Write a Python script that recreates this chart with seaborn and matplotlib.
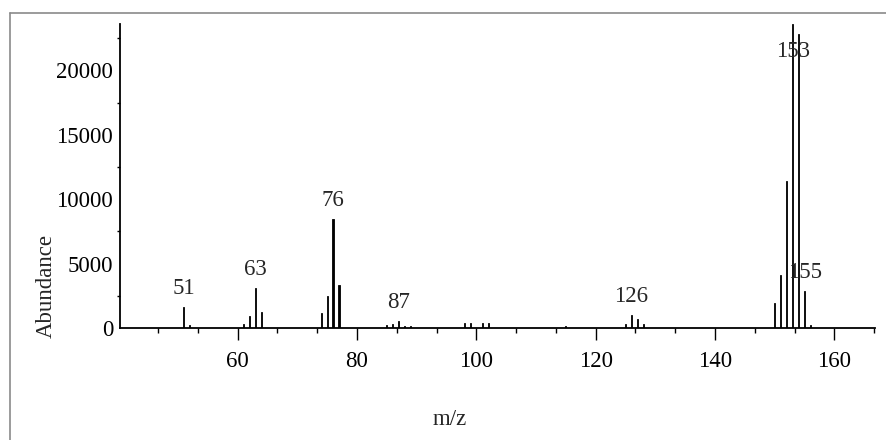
import matplotlib
matplotlib.use("Agg")
import matplotlib.pyplot as plt
from matplotlib.lines import Line2D
from matplotlib.ticker import MultipleLocator
import seaborn as sns
import pandas as pd

# ---- data ----
mz = [51, 52, 61, 62, 63, 64, 74, 75, 76, 77,
      85, 86, 87, 88, 89, 98, 99, 101, 102, 115,
      125, 126, 127, 128, 150, 151, 152, 153, 154, 155, 156]
abundance = [1650, 230, 290, 950, 3080, 1260, 1190, 2480, 8500, 3330,
             260, 310, 520, 180, 130, 390, 390, 390, 390, 150,
             340, 980, 720, 340, 1910, 4100, 11450, 23600, 22800, 2870, 200]
peak_labels = [51, 63, 76, 87, 126, 153, 155]
x_ticks = [60, 80, 100, 120, 140, 160]
y_ticks = [0, 5000, 10000, 15000, 20000]
x_label = "m/z"
y_label = "Abundance"

df = pd.DataFrame({"mz": mz, "abundance": abundance})

sns.set_style("white")
plt.rcParams["font.family"] = ["Liberation Serif", "DejaVu Serif"]
plt.rcParams["font.size"] = 16.5

fig = plt.figure(figsize=(8.86, 4.40), dpi=100)
ax = fig.add_axes([120 / 886, 1 - 328 / 440, (875 - 120) / 886, (328 - 24) / 440])

sns.barplot(data=df, x="mz", y="abundance", native_scale=True, orient="x",
            width=0.2, color="black", edgecolor="black", linewidth=0.6,
            errorbar=None, saturation=1, ax=ax)

ax.set_xlim(40.3, 166.8)
ax.set_ylim(0, 23600)

# peak labels
for m in peak_labels:
    v = abundance[mz.index(m)]
    ax.annotate(str(m), xy=(m, min(v, 20000)), xytext=(0, 13),
                textcoords="offset pixels", ha="center", va="baseline",
                fontsize=16.5)

# axes styling
for s in ("top", "right"):
    ax.spines[s].set_visible(False)
for s in ("left", "bottom"):
    ax.spines[s].set_color("black")
    ax.spines[s].set_linewidth(1.3)

ax.set_xticks(x_ticks)
ax.set_xticklabels([str(t) for t in x_ticks])
ax.xaxis.set_minor_locator(MultipleLocator(20 / 3))
ax.set_yticks(y_ticks)
ax.set_yticklabels([str(t) for t in y_ticks])
ax.yaxis.set_minor_locator(MultipleLocator(2500))

ax.tick_params(axis="x", which="major", direction="out", length=8.6, width=1.0,
               pad=8, colors="black", bottom=True)
ax.tick_params(axis="x", which="minor", direction="out", length=3.6, width=1.0,
               colors="black", bottom=True)
ax.tick_params(axis="y", which="major", direction="out", length=0, pad=5,
               colors="black", left=True)
ax.tick_params(axis="y", which="minor", direction="out", length=2.2, width=1.0,
               colors="black", left=True)

ax.set_xlabel(x_label, fontsize=16.5)
ax.set_ylabel(y_label, fontsize=16.5)
ax.xaxis.label.set_va("center")
ax.yaxis.label.set_va("center")
ax.xaxis.set_label_coords((450 - 120) / 755, -(419 - 328) / 304)
ax.yaxis.set_label_coords((46 - 120) / 755, (328 - 286) / 304)

# outer gray frame (top and left edges)
fig.add_artist(Line2D([10 / 886, 1.0], [1 - 13 / 440, 1 - 13 / 440],
                      transform=fig.transFigure, color="#8a8a8a", lw=1.2))
fig.add_artist(Line2D([10 / 886, 10 / 886], [0.0, 1 - 13 / 440],
                      transform=fig.transFigure, color="#8a8a8a", lw=1.2))

fig.savefig("out.png", dpi=100)
